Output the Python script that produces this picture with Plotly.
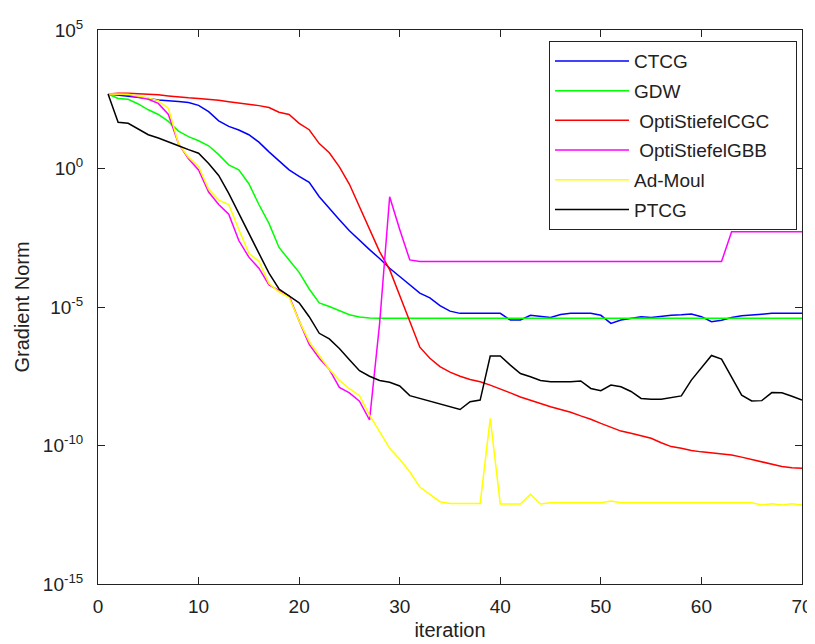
import plotly.graph_objects as go

iterations = list(range(1, 71))

# log10 of gradient norm
ctcg_log10 = [2.69, 2.65, 2.62, 2.59, 2.53, 2.47, 2.45, 2.42, 2.38, 2.28,
              2.05, 1.72, 1.52, 1.39, 1.22, 0.95, 0.60, 0.27, -0.05, -0.28,
              -0.50, -1.02, -1.45, -1.85, -2.25, -2.60, -2.93, -3.25, -3.60, -3.90,
              -4.20, -4.50, -4.67, -4.95, -5.15, -5.23, -5.23, -5.23, -5.23, -5.23,
              -5.47, -5.47, -5.30, -5.33, -5.38, -5.27, -5.23, -5.23, -5.23, -5.30,
              -5.59, -5.47, -5.42, -5.35, -5.38, -5.33, -5.30, -5.28, -5.25, -5.35,
              -5.53, -5.48, -5.38, -5.32, -5.30, -5.26, -5.23, -5.23, -5.23, -5.23]

gdw_log10 = [2.69, 2.53, 2.50, 2.33, 2.12, 1.95, 1.70, 1.35, 1.15, 1.00,
             0.82, 0.50, 0.13, -0.05, -0.55, -1.30, -1.98, -2.85, -3.30, -3.75,
             -4.35, -4.85, -4.98, -5.12, -5.28, -5.36, -5.40, -5.41, -5.41, -5.41,
             -5.41, -5.41, -5.41, -5.41, -5.41, -5.41, -5.41, -5.41, -5.41, -5.41,
             -5.41, -5.41, -5.41, -5.41, -5.41, -5.41, -5.41, -5.41, -5.41, -5.41,
             -5.41, -5.41, -5.41, -5.41, -5.41, -5.41, -5.41, -5.41, -5.41, -5.41,
             -5.41, -5.41, -5.41, -5.41, -5.41, -5.41, -5.41, -5.41, -5.41, -5.41]

cgc_log10 = [2.69, 2.72, 2.72, 2.70, 2.69, 2.66, 2.62, 2.58, 2.55, 2.53,
             2.50, 2.46, 2.41, 2.37, 2.32, 2.27, 2.20, 2.03, 1.95, 1.63,
             1.40, 0.90, 0.57, 0.06, -0.57, -1.40, -2.20, -3.00, -3.65, -4.60,
             -5.55, -6.45, -6.85, -7.15, -7.35, -7.50, -7.62, -7.70, -7.82, -7.95,
             -8.10, -8.25, -8.37, -8.50, -8.60, -8.70, -8.80, -8.93, -9.05, -9.20,
             -9.35, -9.48, -9.56, -9.65, -9.74, -9.90, -10.04, -10.10, -10.18, -10.23,
             -10.27, -10.30, -10.34, -10.42, -10.50, -10.58, -10.68, -10.76, -10.80, -10.82]

gbb_log10 = [2.69, 2.69, 2.65, 2.58, 2.50, 2.35, 1.95, 0.90, 0.35, -0.05,
             -0.85, -1.30, -1.65, -2.60, -3.20, -3.60, -4.20, -4.40, -4.60, -5.50,
             -6.35, -6.85, -7.25, -7.90, -8.10, -8.40, -9.08, -5.60, -1.02, -2.20,
             -3.30, -3.36, -3.36, -3.36, -3.36, -3.36, -3.36, -3.36, -3.36, -3.36,
             -3.36, -3.36, -3.36, -3.36, -3.36, -3.36, -3.36, -3.36, -3.36, -3.36,
             -3.36, -3.36, -3.36, -3.36, -3.36, -3.36, -3.36, -3.36, -3.36, -3.36,
             -3.36, -3.36, -2.28, -2.28, -2.28, -2.28, -2.28, -2.28, -2.28, -2.28]

admoul_log10 = [2.69, 2.69, 2.68, 2.62, 2.55, 2.45, 2.17, 0.90, 0.40, 0.07,
                -0.75, -1.14, -1.30, -2.20, -3.06, -3.35, -4.15, -4.45, -4.65, -5.50,
                -6.25, -6.75, -7.25, -7.65, -7.95, -8.20, -8.90, -9.50, -10.10, -10.50,
                -10.95, -11.50, -11.75, -12.03, -12.09, -12.09, -12.09, -12.09, -9.02, -12.11,
                -12.11, -12.11, -11.76, -12.11, -12.07, -12.07, -12.07, -12.07, -12.07, -12.07,
                -12.00, -12.07, -12.07, -12.07, -12.07, -12.07, -12.07, -12.07, -12.07, -12.07,
                -12.07, -12.07, -12.07, -12.07, -12.07, -12.15, -12.10, -12.15, -12.10, -12.15]

ptcg_log10 = [2.69, 1.67, 1.63, 1.42, 1.22, 1.10, 0.97, 0.82, 0.68, 0.55,
              0.18, -0.25, -0.90, -1.62, -2.34, -3.06, -3.78, -4.35, -4.60, -4.85,
              -5.35, -5.95, -6.15, -6.50, -6.90, -7.30, -7.50, -7.65, -7.72, -7.85,
              -8.20, -8.30, -8.40, -8.50, -8.60, -8.70, -8.42, -8.36, -6.77, -6.77,
              -7.10, -7.40, -7.52, -7.65, -7.70, -7.70, -7.70, -7.67, -7.94, -8.02,
              -7.82, -7.88, -8.05, -8.30, -8.33, -8.33, -8.28, -8.21, -7.64, -7.20,
              -6.75, -6.88, -7.55, -8.18, -8.39, -8.38, -8.09, -8.10, -8.22, -8.36]

series_names = ["CTCG", "GDW", "\u00a0OptiStiefelCGC\u00a0\u00a0\u00a0\u00a0", "\u00a0OptiStiefelGBB",
                "Ad-Moul", "PTCG"]
series_data = [ctcg_log10, gdw_log10, cgc_log10, gbb_log10, admoul_log10, ptcg_log10]
series_colors = ["#0000FF", "#00FF00", "#FF0000", "#FF00FF", "#FFFF00", "#000000"]

y_tick_exponents = [5, 0, -5, -10, -15]
y_tick_labels = ["10<sup>5</sup>", "10<sup>0</sup>", "10<sup>-5</sup>", "10<sup>-10</sup>", "10<sup>-15</sup>"]
x_ticks = [0, 10, 20, 30, 40, 50, 60, 70]

FONT = "Liberation Sans, Arial, sans-serif"
TXT = "#222222"

fig = go.Figure()
for name, data, color in zip(series_names, series_data, series_colors):
    fig.add_trace(go.Scatter(
        x=iterations, y=[10 ** v for v in data], mode="lines", name=name,
        legendgroup=name, line=dict(color=color, width=1.5)))

# the page body has an 8px default margin, so the figure is sized/offset to fit the window
fig.update_layout(
    width=807, height=636,
    margin=dict(l=90, r=13, t=22, b=60, autoexpand=False),
    paper_bgcolor="white", plot_bgcolor="white",
    font=dict(family=FONT, size=19, color=TXT),
    showlegend=True,
    legend=dict(x=0.6406, y=0.98, xanchor="left", yanchor="top",
                bgcolor="white", bordercolor="#222222", borderwidth=1,
                font=dict(family=FONT, size=19, color=TXT),
                traceorder="grouped", tracegroupgap=2, itemwidth=74),
)
fig.update_xaxes(
    range=[0, 70], tickvals=x_ticks, ticks="inside", ticklen=7, tickcolor="#222222",
    showline=True, linecolor="#222222", linewidth=1, mirror="ticks",
    showgrid=False, zeroline=False, ticklabelstandoff=5, automargin=False,
    title=dict(text="iteration", font=dict(size=20), standoff=7),
)
fig.update_yaxes(
    type="log", range=[-15, 5], tickvals=[10 ** e for e in y_tick_exponents],
    ticktext=y_tick_labels, ticks="inside", ticklen=7, tickcolor="#222222",
    showline=True, linecolor="#222222", linewidth=1, mirror="ticks",
    showgrid=False, zeroline=False, ticklabelstandoff=10, automargin=False,
    title=dict(text="Gradient Norm", font=dict(size=20), standoff=7),
)

fig.write_html("out.html")
